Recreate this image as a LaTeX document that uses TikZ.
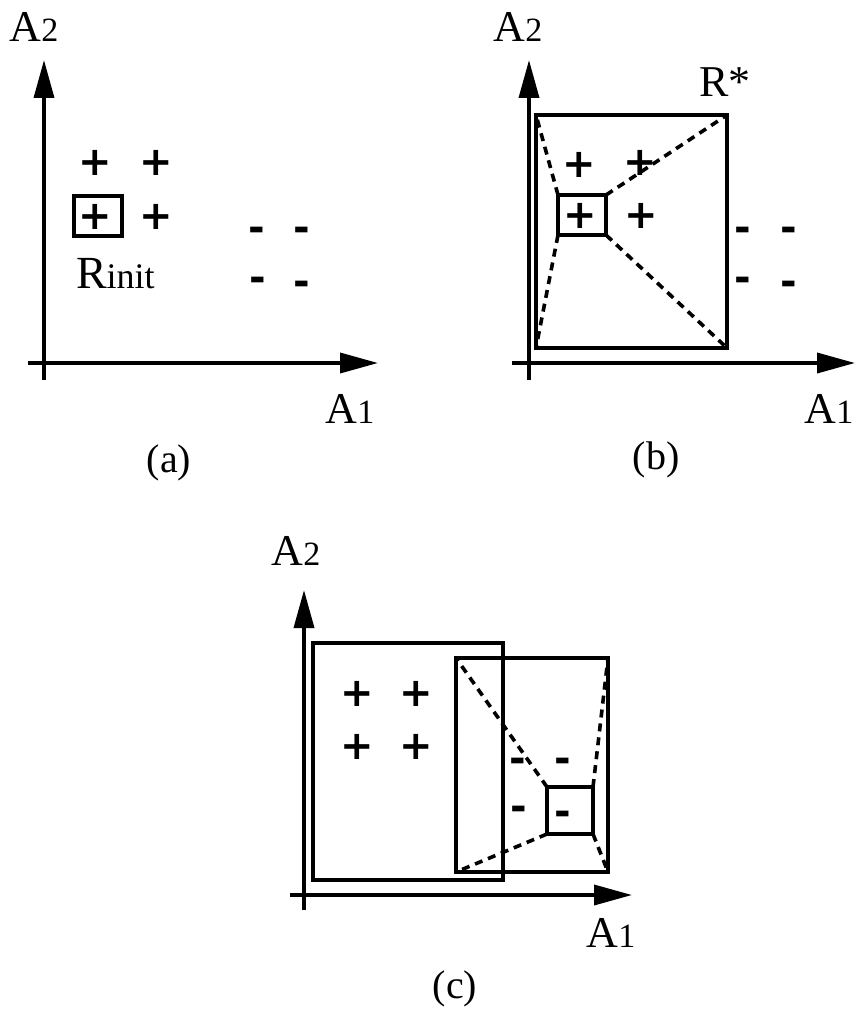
\documentclass[tikz,border=0pt]{standalone}
\usepackage{fontspec}
\setmainfont{Liberation Serif}
\newfontfamily\markfont{DejaVu Sans}
\usepackage{tikz}
\usetikzlibrary{arrows.meta,positioning,fit}
\newcommand{\subdig}[1]{{\fontsize{17}{20}\selectfont #1}}

\begin{document}
\begin{tikzpicture}[
  x=0.5pt, y=-0.5pt,
  every node/.style={inner sep=0pt, outer sep=0pt},
  axisarr/.style={line width=1.8pt, -{Triangle[length=19pt,width=10pt]}},
  region/.style={draw, line width=2pt},
  seed/.style={draw, line width=1.7pt},
  opt/.style={line width=1.8pt, dash pattern=on 4pt off 3pt},
  axlbl/.style={font=\fontsize{22}{26}\selectfont},
  panelcap/.style={font=\fontsize{20}{24}\selectfont},
  plusmark/.style={font=\markfont\bfseries\fontsize{20}{22}\selectfont},
  minusmark/.style={font=\markfont\bfseries\fontsize{20}{22}\selectfont, anchor=base, yshift=-6pt}
]
\useasboundingbox (0,0) rectangle (861,1011);

% (a) initial region
\coordinate (oa-x) at (28,363);
\coordinate (ta-x) at (378,363);
\coordinate (oa-y) at (44,380);
\coordinate (ta-y) at (44,60);
\draw[axisarr] (oa-x) -- (ta-x);
\draw[axisarr] (oa-y) -- (ta-y);
\node[axlbl] (a2a) at (34,27) {A\subdig{2}};
\node[axlbl] (a1a) at (350,409) {A\subdig{1}};
\foreach \x/\y [count=\i] in {95/163, 156/163, 95/217, 156/217}
  \node[plusmark] (pa\i) at (\x,\y) {+};
\foreach \x/\y [count=\i] in {257/229, 302/229, 258/279, 302/283}
  \node[minusmark] (na\i) at (\x,\y) {-};
\node[seed, fit={(74,196) (122,236)}] (seeda) {};
\node[anchor=base west] (rinit) at (76,288)
  {{\fontsize{23}{26}\selectfont R}{\fontsize{18}{20}\selectfont init}};
\node[panelcap] (capa) at (169,463) {(a)};

% (b) generalised region
\coordinate (ob-x) at (512,363);
\coordinate (tb-x) at (855,363);
\coordinate (ob-y) at (529,380);
\coordinate (tb-y) at (529,60);
\draw[axisarr] (ob-x) -- (tb-x);
\draw[axisarr] (ob-y) -- (tb-y);
\node[axlbl] (a2b) at (518,27) {A\subdig{2}};
\node[axlbl] (a1b) at (829,409) {A\subdig{1}};
\node[region, fit={(536,115) (727,348)}] (rstar) {};
\node[seed, fit={(558,195) (606,235)}] (seedb) {};
\node[axlbl] (rstarlbl) at (725,82) {R*};
\foreach \x/\y [count=\i] in {579/165, 640/163, 580/216, 641/216}
  \node[plusmark] (pb\i) at (\x,\y) {+};
\foreach \x/\y [count=\i] in {743/229, 789/229, 743/279, 789/283}
  \node[minusmark] (nb\i) at (\x,\y) {-};
\draw[opt] (seedb.north west) -- (rstar.north west);
\draw[opt] (seedb.north east) -- (rstar.north east);
\draw[opt] (seedb.south west) -- (rstar.south west);
\draw[opt] (seedb.south east) -- (rstar.south east);
\node[panelcap] (capb) at (656,460) {(b)};

% (c) second region
\coordinate (oc-x) at (290,895);
\coordinate (tc-x) at (632,895);
\coordinate (oc-y) at (304,910);
\coordinate (tc-y) at (304,590);
\draw[axisarr] (oc-x) -- (tc-x);
\draw[axisarr] (oc-y) -- (tc-y);
\node[axlbl] (a2c) at (296,551) {A\subdig{2}};
\node[axlbl] (a1c) at (611,933) {A\subdig{1}};
\node[region, fit={(313,643) (503,880)}] (rpos) {};
\node[region, fit={(456,658) (608,872)}] (rneg) {};
\node[seed, fit={(547,787) (593,834)}] (seedc) {};
\foreach \x/\y [count=\i] in {357/694, 416/694, 357/747, 416/747}
  \node[plusmark] (pc\i) at (\x,\y) {+};
\foreach \x/\y [count=\i] in {518/760, 563/760, 519/808, 563/813}
  \node[minusmark] (nc\i) at (\x,\y) {-};
\draw[opt] (seedc.north west) -- (rneg.north west);
\draw[opt] (seedc.north east) -- (rneg.north east);
\draw[opt] (seedc.south west) -- (rneg.south west);
\draw[opt] (seedc.south east) -- (rneg.south east);
\node[panelcap] (capc) at (455,989) {(c)};
\end{tikzpicture}
\end{document}
